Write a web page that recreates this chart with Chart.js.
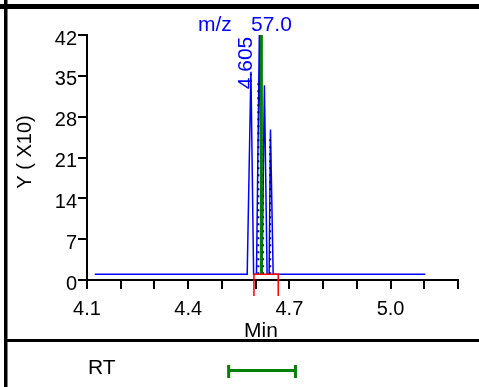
<!DOCTYPE html>
<html>
<head>
<meta charset="utf-8">
<script src="https://cdn.jsdelivr.net/npm/chart.js@4"></script>
<style>
  body { margin: 0; background: #fff; }
  #wrap { width: 479px; height: 387px; }
</style>
</head>
<body>
<div id="wrap"><canvas id="sim"></canvas></div>
<script>
// chromatogram trace: retention time (min) vs intensity (Y x10)
const traceX = [4.123, 4.575, 4.586, 4.594, 4.6025, 4.611, 4.619, 4.626, 4.634, 4.640, 4.644, 4.652, 5.103];
const traceY = [1.0, 1.0, 35.7, 1.0, 1.0, 42, 1.0, 33.4, 1.0, 1.0, 25.8, 1.0, 1.0];

// expected RT marker (green) and peak split lines (dotted)
const rtLineX = 4.617;
const rtLineY = [1.0, 42];
const dotX = [4.608, 4.622, 4.643];
const dotTop = [34, 25, 25];

// integration window (red) and RT range bar (bottom row)
const windowX = [4.595, 4.667];
const rtRange = [4.520, 4.718];

const xTickValues = [4.1, 4.2, 4.3, 4.4, 4.5, 4.6, 4.7, 4.8, 4.9, 5.0, 5.1, 5.2];
const xTickLabels = ['4.1', '', '', '4.4', '', '', '4.7', '', '', '5.0', '', ''];
const yMax = 42;
const yStep = 7;

const peakLabel = '4.605';
const massLabel = ['m/z', '57.0'];

const FONT = 'Liberation Sans, Arial, sans-serif';

const decor = {
  id: 'decor',
  afterDraw(chart) {
    const c = chart.ctx;
    const xs = chart.scales.x, ys = chart.scales.y;
    c.save();
    // frame
    c.fillStyle = '#000';
    c.fillRect(0, 4, 479, 5);
    c.fillRect(4, 0, 3.5, 387);
    c.fillRect(5, 339, 474, 3);

    // red integration window
    const l = xs.getPixelForValue(windowX[0]);
    const r = xs.getPixelForValue(windowX[1]);
    const t = ys.getPixelForValue(traceY[0]);
    c.strokeStyle = '#ff0000';
    c.lineWidth = 1.5;
    c.beginPath();
    c.moveTo(l, 296); c.lineTo(l, t); c.lineTo(r, t); c.lineTo(r, 296);
    c.stroke();

    // labels
    c.fillStyle = '#0000ff';
    c.font = '21px ' + FONT;
    c.textBaseline = 'alphabetic';
    c.textAlign = 'left';
    c.fillText(massLabel[0], 198, 31);
    c.fillText(massLabel[1], 251, 31);

    c.save();
    c.translate(246, 63);
    c.rotate(-Math.PI / 2);
    c.textAlign = 'center';
    c.textBaseline = 'middle';
    c.fillText(peakLabel, 0, 0);
    c.restore();

    c.fillStyle = '#000';
    c.save();
    c.translate(25, 152);
    c.rotate(-Math.PI / 2);
    c.font = '20px ' + FONT;
    c.textAlign = 'center';
    c.textBaseline = 'middle';
    c.fillText('Y ( X10)', 0, 0);
    c.restore();

    c.font = '21px ' + FONT;
    c.textAlign = 'center';
    c.fillText('Min', 261, 337);
    c.textAlign = 'left';
    c.fillText('RT', 88, 374);

    // RT range bar
    const a = xs.getPixelForValue(rtRange[0]);
    const b = xs.getPixelForValue(rtRange[1]);
    c.strokeStyle = '#008000';
    c.lineWidth = 3;
    c.beginPath();
    c.moveTo(a, 370.5); c.lineTo(b, 370.5);
    c.moveTo(a, 365); c.lineTo(a, 378);
    c.moveTo(b, 365); c.lineTo(b, 378);
    c.stroke();
    c.restore();
  }
};

const ctx = document.getElementById('sim').getContext('2d');
const simChart = new Chart(ctx, {
  type: 'line',
  data: {
    datasets: [
      {
        data: [{x: rtLineX, y: rtLineY[0]}, {x: rtLineX, y: rtLineY[1]}],
        borderColor: '#008000',
        borderWidth: 3,
        pointRadius: 0,
        clip: false
      },
      ...dotX.map((x, i) => ({
        data: [{x: x, y: traceY[0]}, {x: x, y: dotTop[i]}],
        borderColor: '#000080',
        borderWidth: 2,
        borderDash: [2, 5],
        pointRadius: 0
      })),
      {
        data: traceX.map((x, i) => ({x: x, y: traceY[i]})),
        borderColor: '#0000ff',
        borderWidth: 1.5,
        pointRadius: 0,
        tension: 0,
        clip: false
      }
    ]
  },
  options: {
    responsive: true,
    maintainAspectRatio: false,
    animation: false,
    layout: { padding: { top: 35, right: 21, left: 0, bottom: 0 } },
    plugins: { legend: { display: false }, tooltip: { enabled: false } },
    scales: {
      x: {
        type: 'linear',
        min: xTickValues[0],
        max: xTickValues[xTickValues.length - 1],
        afterFit: s => { s.height = 107; },
        afterBuildTicks: s => { s.ticks = xTickValues.map(v => ({value: v})); },
        border: { color: '#000', width: 2 },
        grid: { drawOnChartArea: false, color: '#000', lineWidth: 2, tickLength: 9 },
        ticks: {
          autoSkip: false,
          maxRotation: 0,
          padding: 8,
          color: '#000',
          font: { family: FONT, size: 20 },
          callback: (v, i) => xTickLabels[i]
        }
      },
      y: {
        min: 0,
        max: yMax,
        afterFit: s => { s.width = 87; },
        border: { color: '#000', width: 2 },
        grid: { drawOnChartArea: false, color: '#000', lineWidth: 2, tickLength: 9 },
        ticks: {
          stepSize: yStep,
          padding: 1,
          labelOffset: 4,
          color: '#000',
          font: { family: FONT, size: 20 }
        }
      }
    }
  },
  plugins: [decor]
});
</script>
</body>
</html>
